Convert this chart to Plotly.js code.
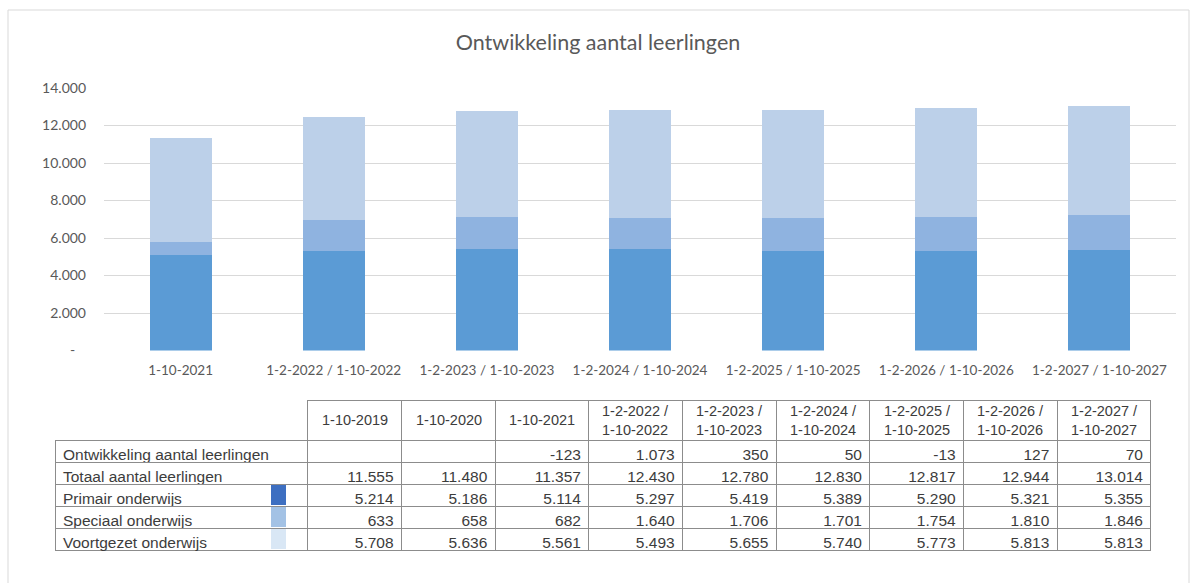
<!DOCTYPE html>
<html>
<head>
<meta charset="utf-8">
<script src="https://cdn.plot.ly/plotly-3.0.1.min.js"></script>
<style>
html,body{margin:0;padding:0;background:#fff;}
#chart{width:1194px;height:583px;}
</style>
</head>
<body>
<div id="chart"></div>
<script>
// ---- data ----
const tableDates = ['1-10-2019','1-10-2020','1-10-2021','1-2-2022 / 1-10-2022','1-2-2023 / 1-10-2023','1-2-2024 / 1-10-2024','1-2-2025 / 1-10-2025','1-2-2026 / 1-10-2026','1-2-2027 / 1-10-2027'];
const rowLabels = ['Ontwikkeling aantal leerlingen','Totaal aantal leerlingen','Primair onderwijs','Speciaal onderwijs','Voortgezet onderwijs'];
const ontwikkeling = [null, null, -123, 1073, 350, 50, -13, 127, 70];
const totaal = [11555, 11480, 11357, 12430, 12780, 12830, 12817, 12944, 13014];
const primair = [5214, 5186, 5114, 5297, 5419, 5389, 5290, 5321, 5355];
const speciaal = [633, 658, 682, 1640, 1706, 1701, 1754, 1810, 1846];
const voortgezet = [5708, 5636, 5561, 5493, 5655, 5740, 5773, 5813, 5813];
const chartStart = 2; // chart shows from 1-10-2021 onward
const yTickVals = [0, 2000, 4000, 6000, 8000, 10000, 12000, 14000];
const yTickText = ['-\u00a0\u00a0\u00a0', '2.000', '4.000', '6.000', '8.000', '10.000', '12.000', '14.000'];

// ---- helpers ----
const W = 1194, H = 583;
const px = v => v / W;
const py = v => 1 - v / H;
function fmt(n) {
  if (n === null || n === undefined) return '';
  const s = String(Math.abs(n)).replace(/\B(?=(\d{3})+(?!\d))/g, '.');
  return (n < 0 ? '-' : '') + s;
}

const cats = tableDates.slice(chartStart);
const colPrim = '#5b9bd5', colSpec = '#8fb3e0', colVoort = '#bcd0e9';

const barCommon = {type: 'bar', x: cats, showlegend: false, hoverinfo: 'none'};
const traces = [
  Object.assign({}, barCommon, {name: 'Primair onderwijs', y: primair.slice(chartStart), marker: {color: colPrim, line: {width: 0}}}),
  Object.assign({}, barCommon, {name: 'Speciaal onderwijs', y: speciaal.slice(chartStart), marker: {color: colSpec, line: {width: 0}}}),
  Object.assign({}, barCommon, {name: 'Voortgezet onderwijs', y: voortgezet.slice(chartStart), marker: {color: colVoort, line: {width: 0}}})
];

// ---- table ----
const tableFont = 'Liberation Sans, Arial, sans-serif';
const textCol = '#3c3c3c';
const cellVals = [rowLabels].concat(tableDates.map((d, i) => [
  fmt(ontwikkeling[i]), fmt(totaal[i]), fmt(primair[i]), fmt(speciaal[i]), fmt(voortgezet[i])
]));
const lineCol = '#8c8c8c';
const tableLeft = 55, labelW = 253, colW = 93.7;
const tableTop = 400, headerH = 40, rowH = 22;
traces.push({
  type: 'table',
  domain: {x: [px(tableLeft), px(tableLeft + labelW + colW * tableDates.length)], y: [0, py(tableTop)]},
  columnwidth: [labelW].concat(tableDates.map(() => colW)),
  header: {
    values: [['']].concat(tableDates.map(() => [''])),
    height: headerH,
    line: {color: ['#ffffff'].concat(tableDates.map(() => lineCol)), width: [0].concat(tableDates.map(() => 1))},
    fill: {color: '#ffffff'},
    font: {family: tableFont, size: 14, color: textCol}
  },
  cells: {
    values: cellVals,
    height: rowH,
    align: ['left'].concat(tableDates.map(() => 'right')),
    line: {color: lineCol, width: 1},
    fill: {color: '#ffffff'},
    font: {family: tableFont, size: 15.5, color: textCol}
  }
});

// header texts (placed over the empty header cells)
const annotations = tableDates.map((d, i) => ({
  xref: 'paper', yref: 'paper',
  x: px(tableLeft + labelW + colW * (i + 0.5)),
  y: py(tableTop + headerH / 2),
  xanchor: 'center', yanchor: 'middle',
  text: d.replace(' / ', ' /<br>'),
  showarrow: false,
  font: {family: tableFont, size: 14.5, color: textCol}
}));

// legend swatches inside the table label column
const swatchColors = ['#3d6fc1', '#a3c2e5', '#d9e7f5'];
const shapes = [
  {type: 'rect', xref: 'paper', yref: 'paper', x0: px(8), x1: px(1189), y0: -0.05, y1: py(10),
   line: {color: '#d9d9d9', width: 1}, fillcolor: 'rgba(0,0,0,0)', layer: 'below'}
];
swatchColors.forEach((c, k) => {
  const top = tableTop + headerH + rowH * (2 + k) + 1;
  shapes.push({type: 'rect', xref: 'paper', yref: 'paper',
    x0: px(271), x1: px(286), y0: py(top + rowH - 2), y1: py(top),
    line: {width: 0}, fillcolor: c});
});

const layout = {
  width: W, height: H,
  margin: {l: 0, r: 0, t: 0, b: 0},
  paper_bgcolor: '#ffffff', plot_bgcolor: '#ffffff',
  barmode: 'stack',
  bargap: 0.595,
  showlegend: false,
  title: {text: 'Ontwikkeling aantal leerlingen', x: px(598), xref: 'paper', xanchor: 'center',
          y: py(42), yref: 'paper', yanchor: 'middle',
          font: {family: 'Lato, Open Sans, sans-serif', size: 21.5, color: '#595959'}},
  xaxis: {
    domain: [px(104), px(1176)],
    type: 'category',
    showgrid: false, showline: false, zeroline: false, ticks: '',
    ticklabelstandoff: 10,
    tickfont: {family: 'Lato, Open Sans, sans-serif', size: 13.5, color: '#595959'},
    fixedrange: true
  },
  yaxis: {
    domain: [py(350.5), py(88)],
    range: [0, 14000],
    tickvals: yTickVals, ticktext: yTickText,
    showgrid: true, gridcolor: '#d9d9d9', gridwidth: 1,
    zeroline: false, showline: false, ticks: '',
    ticklabelstandoff: 17,
    tickfont: {family: 'Lato, Open Sans, sans-serif', size: 14, color: '#595959'},
    fixedrange: true
  },
  shapes: shapes,
  annotations: annotations
};

Plotly.newPlot('chart', traces, layout, {displayModeBar: false, staticPlot: true});
</script>
</body>
</html>
